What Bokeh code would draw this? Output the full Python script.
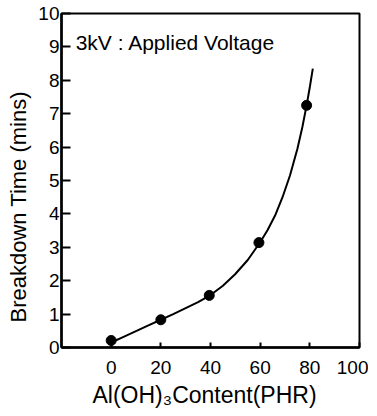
from bokeh.plotting import figure
from bokeh.models import Range1d, FixedTicker, Label, Title
from bokeh.embed import file_html
from bokeh.resources import INLINE

# data
content_phr = [0, 20, 39.5, 59.5, 78.7]
breakdown_min = [0.21, 0.83, 1.56, 3.14, 7.25]

curve_x = [0, 5, 10, 15, 20, 25, 30, 35, 40, 45, 50, 55, 60, 63, 66, 69, 72, 75, 77, 78.7, 80, 81.2]
curve_y = [0.15, 0.32, 0.49, 0.66, 0.83, 1.0, 1.18, 1.36, 1.57, 1.85, 2.2, 2.62, 3.15,
           3.52, 3.95, 4.5, 5.15, 5.95, 6.6, 7.25, 7.8, 8.35]

x_ticks = [0, 20, 40, 60, 80, 100]
y_ticks = [0, 1, 2, 3, 4, 5, 6, 7, 8, 9, 10]

x_title = "Al(OH)₃Content(PHR)"
y_title = "Breakdown Time (mins)"
note = "3kV : Applied  Voltage"

FONT = "Liberation Sans"

p = figure(width=368, height=416, output_backend="svg", toolbar_location=None,
           x_range=Range1d(-20, 100), y_range=Range1d(0, 10),
           min_border_left=59, min_border_top=13, min_border_right=9, min_border_bottom=69)
p.background_fill_color = "white"
p.border_fill_color = "white"
p.outline_line_color = "black"
p.outline_line_width = 2
p.grid.visible = False

p.line(curve_x, curve_y, line_color="black", line_width=2)
p.scatter(content_phr, breakdown_min, size=10, color="black")

for ax in (p.xaxis[0], p.yaxis[0]):
    ax.axis_line_color = "black"
    ax.axis_line_width = 2.5
    ax.major_tick_line_color = "black"
    ax.major_tick_line_width = 2
    ax.major_tick_out = 0
    ax.minor_tick_line_color = None
    ax.major_label_text_font = FONT
    ax.major_label_text_font_size = "19px"
    ax.major_label_text_color = "black"

p.xaxis.ticker = FixedTicker(ticks=x_ticks)
p.yaxis.ticker = FixedTicker(ticks=y_ticks)
p.xaxis.major_tick_in = 5
p.yaxis.major_tick_in = 9
p.xaxis.major_label_standoff = 13
p.yaxis.major_label_standoff = 2

p.add_layout(Title(text=y_title, align="left", offset=25, vertical_align="middle", standoff=8,
                   text_font=FONT, text_font_size="22px", text_font_style="normal",
                   text_color="black"), "left")
p.add_layout(Title(text=x_title, align="left", offset=31, vertical_align="top", standoff=11,
                   text_font=FONT, text_font_size="23px", text_font_style="normal",
                   text_color="black"), "below")
p.add_layout(Label(x=-14.3, y=9.14, text=note, text_font=FONT,
                   text_font_size="21px", text_color="black", text_baseline="alphabetic"))

open("out.html", "w").write(file_html(p, INLINE))
